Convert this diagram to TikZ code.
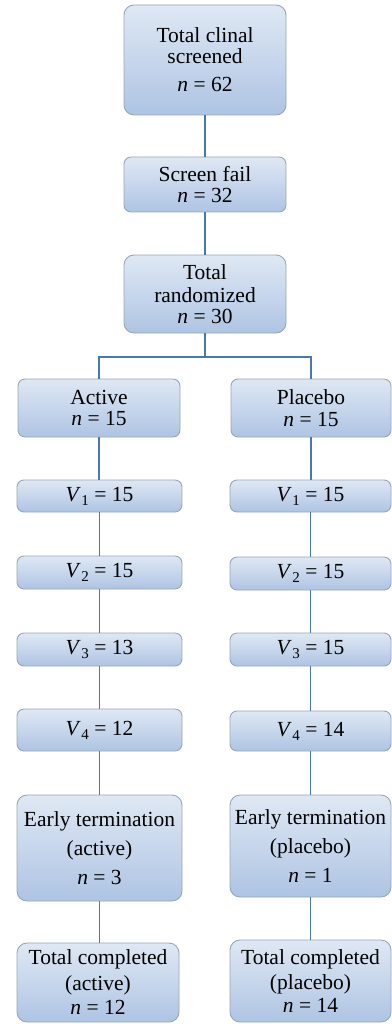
\documentclass[tikz,border=0pt]{standalone}
\usepackage{fontspec}
\setmainfont{Liberation Serif}
\definecolor{topc}{HTML}{DFE8F4}
\definecolor{botc}{HTML}{AEC4E3}
\definecolor{edgec}{HTML}{98A6B9}
\definecolor{linkc}{HTML}{4A78AE}
\tikzset{
 box/.style={draw=edgec, line width=0.9pt, rounded corners=7pt, top color=topc, bottom color=botc,
   align=center, inner sep=0pt, font=\fontsize{21.5}{21}\selectfont},
 bigbox/.style={box, rounded corners=10pt},
 conn/.style={draw=linkc, line width=1.5pt}
}
\newcommand{\nn}{\textit{n}}
\newcommand{\vv}[1]{\textit{V}\kern0.5pt\raisebox{-0.4ex}{\fontsize{15}{15}\selectfont #1}}
\begin{document}
\begin{tikzpicture}[x=1pt,y=-1pt]
\useasboundingbox (0,0) rectangle (391,1024);
% centre column
\node[bigbox, minimum width=162pt, minimum height=110pt] (top) at (205,60) {Total clinal\\[0pt] screened\\[7pt] \nn{} = 62};
\node[box, minimum width=162pt, minimum height=55pt] (fail) at (205,184.5) {Screen fail\\[0pt] \nn{} = 32};
\node[bigbox, minimum width=162pt, minimum height=78pt] (rand) at (205,294) {Total\\[2pt] randomized\\[0pt] \nn{} = 30};
\coordinate (split) at (205,357);
% left column
\node[box, minimum width=162pt, minimum height=58pt] (act) at (99,408) {Active\\[0.5pt] \nn{} = 15};
\node[box, minimum width=165pt, minimum height=32pt] (a1) at (99.5,496) {\vv{1} = 15};
\node[box, minimum width=165pt, minimum height=33pt] (a2) at (99.5,572.5) {\vv{2} = 15};
\node[box, minimum width=165pt, minimum height=33pt] (a3) at (99.5,649.5) {\vv{3} = 13};
\node[box, minimum width=165pt, minimum height=42pt] (a4) at (99.5,730) {\vv{4} = 12};
\node[bigbox, minimum width=165pt, minimum height=106pt] (aet) at (99.5,848) {Early termination\\[8pt] (active)\\[8pt] \nn{} = 3};
\node[bigbox, minimum width=162pt, minimum height=79pt] (atc) at (98,982.5) {Total completed\\[5pt] (active)\\[3pt] \nn{} = 12};
% right column
\node[box, minimum width=160pt, minimum height=58pt] (pla) at (311,408) {Placebo\\[0.5pt] \nn{} = 15};
\node[box, minimum width=161pt, minimum height=32pt] (p1) at (310.5,496) {\vv{1} = 15};
\node[box, minimum width=161pt, minimum height=33pt] (p2) at (310.5,573.5) {\vv{2} = 15};
\node[box, minimum width=161pt, minimum height=33pt] (p3) at (310.5,649.5) {\vv{3} = 15};
\node[box, minimum width=161pt, minimum height=40pt] (p4) at (310.5,731) {\vv{4} = 14};
\node[bigbox, minimum width=161pt, minimum height=102pt] (pet) at (310.5,846) {Early termination\\[8pt] (placebo)\\[8pt] \nn{} = 1};
\node[bigbox, minimum width=161pt, minimum height=82pt] (ptc) at (310.5,981) {Total completed\\[4pt] (placebo)\\[2pt] \nn{} = 14};
% connectors
\draw[conn] (top.south) -- (fail.north);
\draw[conn] (fail.south) -- (rand.north);
\draw[conn] (rand.south) -- (split);
\draw[conn] (split) -| (act.north);
\draw[conn] (split) -| (pla.north);
\foreach \src/\dst in {act/a1,a1/a2,a2/a3,a3/a4,a4/aet,aet/atc,pla/p1,p1/p2,p2/p3,p3/p4,p4/pet,pet/ptc}{
  \draw[conn] (\src.south) -- (\src.south |- \dst.north);
}
\end{tikzpicture}
\end{document}
